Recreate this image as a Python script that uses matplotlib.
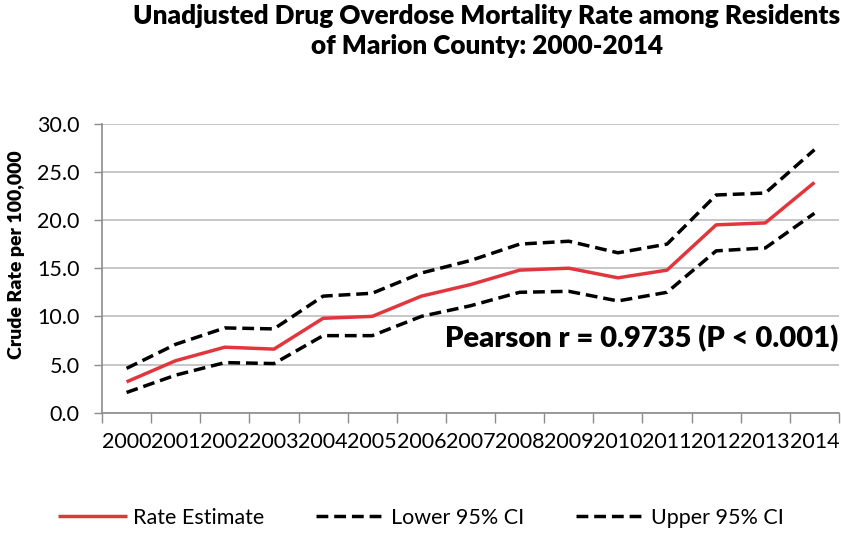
import matplotlib
matplotlib.use("Agg")
import matplotlib.pyplot as plt
import numpy as np
from matplotlib.ticker import FixedLocator, FormatStrFormatter

plt.rcParams['font.family'] = ['Lato', 'DejaVu Sans']

# dados
anos = ['2000', '2001', '2002', '2003', '2004', '2005', '2006', '2007',
        '2008', '2009', '2010', '2011', '2012', '2013', '2014']
taxa = [3.2, 5.4, 6.8, 6.6, 9.8, 10.0, 12.1, 13.3, 14.8, 15.0, 14.0, 14.8, 19.5, 19.7, 23.9]
ic_inferior = [2.1, 3.9, 5.2, 5.1, 8.0, 8.0, 10.0, 11.1, 12.5, 12.6, 11.6, 12.5, 16.8, 17.1, 20.7]
ic_superior = [4.6, 7.1, 8.8, 8.7, 12.1, 12.4, 14.5, 15.8, 17.5, 17.8, 16.6, 17.5, 22.6, 22.8, 27.3]

titulo = "Unadjusted Drug Overdose Mortality Rate among Residents\nof Marion County: 2000-2014"
rotulo_y = "Crude Rate per 100,000"
texto_pearson = "Pearson r = 0.9735 (P < 0.001)"

fig = plt.figure(figsize=(8.41, 5.34), dpi=100)
ax = fig.add_axes([102/841, 1 - 412.7/534, 737/841, 289/534])

x = np.arange(len(anos))
cinza = '#8c8c8c'
ax.plot(x, taxa, color='#E2363E', lw=2.5, label='Rate Estimate', solid_capstyle='butt')
ax.plot(x, ic_inferior, color='black', lw=2.5, dashes=(3.4, 1.7), label='Lower 95% CI')
ax.plot(x, ic_superior, color='black', lw=2.5, dashes=(3.4, 1.7), label='Upper 95% CI')

ax.set_xlim(-0.5, len(anos) - 0.5)
ax.set_ylim(0, 30)
ax.set_yticks(np.arange(0, 31, 5))
ax.yaxis.set_major_formatter(FormatStrFormatter('%.1f'))
ax.grid(axis='y', color='#bdbdbd', lw=1.2)
ax.set_axisbelow(True)

# marcas entre as categorias, rótulos no centro
ax.xaxis.set_major_locator(FixedLocator(np.arange(-0.5, len(anos), 1)))
ax.xaxis.set_minor_locator(FixedLocator(x))
ax.set_xticklabels([], minor=False)
ax.set_xticklabels(anos, minor=True)
ax.tick_params(axis='x', which='major', length=7, color=cinza, width=1)
ax.tick_params(axis='x', which='minor', length=0, pad=14, labelsize=15.5)
ax.tick_params(axis='y', length=6, color=cinza, width=1, labelsize=15.5, pad=10)

for s in ['top', 'right']:
    ax.spines[s].set_visible(False)
for s in ['left', 'bottom']:
    ax.spines[s].set_color(cinza)
    ax.spines[s].set_linewidth(1.2)

ax.text(0.9986, 0.258, texto_pearson, transform=ax.transAxes, ha='right', va='center',
        fontsize=21, fontweight='heavy')

fig.text(487/841, 1 - 4/534, titulo, ha='center', va='top', fontsize=18.8,
         fontweight='heavy', linespacing=1.3)
fig.text(17/841, 1 - 255/534, rotulo_y, rotation=90, ha='center', va='center',
         fontsize=14, fontweight='heavy')

fig.legend(loc='center', bbox_to_anchor=(421/841, 1 - 518/534), ncol=3, frameon=False,
           fontsize=15.5, handlelength=3.2, columnspacing=2.4, handletextpad=0.28)

fig.savefig('out.png', dpi=100)
